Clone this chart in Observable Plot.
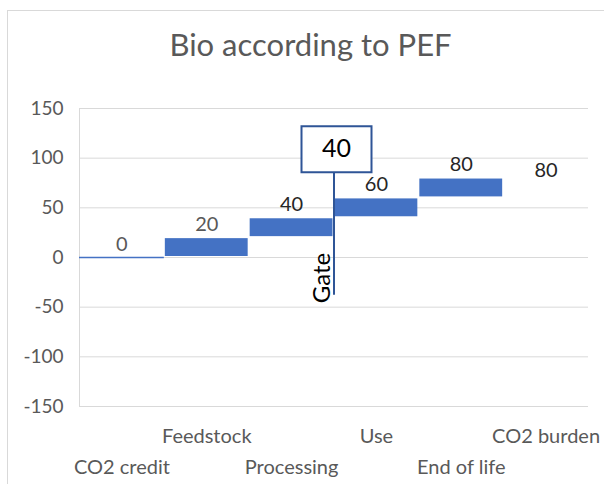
<!DOCTYPE html>
<html>
<head>
<meta charset="utf-8">
<script src="https://cdn.jsdelivr.net/npm/d3@7"></script>
<script src="https://cdn.jsdelivr.net/npm/@observablehq/plot@0.6"></script>
<style>
  html, body { margin: 0; padding: 0; background: #fff; overflow: hidden; }
  #wrap { position: relative; width: 604px; height: 484px; }
  #border { position: absolute; left: 7px; top: 10px; width: 700px; height: 600px; border: 1px solid #d9d9d9; box-sizing: border-box; }
  #chart { position: absolute; left: 0; top: 0; }
  svg { font-family: Lato, "Open Sans", sans-serif; }
</style>
</head>
<body>
<div id="wrap"><div id="border"></div><div id="chart"></div></div>
<script>
const title = "Bio according to PEF";
const categories = ["CO2 credit", "Feedstock", "Processing", "Use", "End of life", "CO2 burden"];
const barStart = [0, 0, 20, 40, 60, 80];
const barEnd = [0, 20, 40, 60, 80, 80];
const valueLabels = ["0", "20", "40", "60", "80", "80"];
const yTicks = [-150, -100, -50, 0, 50, 100, 150];
const gateAfter = "Processing";
const gateValue = 40;
const gateLineFrom = -38;
const gateLineTo = 85;
const gateBoxAt = 109;
const gateTextStart = -46;

const W = 604, H = 484, ML = 79, MR = 16, MT = 108, MB = 78;
const bw = (W - ML - MR) / categories.length;

const rows = categories.map((c, i) => ({cat: c, i, start: barStart[i], end: barEnd[i], label: valueLabels[i]}));
const gate = [{after: gateAfter, value: gateValue, from: gateLineFrom, to: gateLineTo, box: gateBoxAt, gtext: gateTextStart}];
const axisLine = [{cat: categories[0], y1: yTicks[0], y2: yTicks[yTicks.length - 1]}];

const rectSymbol = { draw(ctx) { ctx.rect(-35, -23, 70, 46); } };

const labelColor = (d) => (d.i < 2 ? "#595959" : "#262626");

const plot = Plot.plot({
  width: W, height: H,
  marginLeft: ML, marginRight: MR, marginTop: MT, marginBottom: MB,
  x: {domain: categories, padding: 0, round: false, axis: null},
  y: {domain: [yTicks[0], yTicks[yTicks.length - 1]], axis: null},
  marks: [
    Plot.gridY(yTicks, {stroke: "#d9d9d9", strokeOpacity: 1, strokeWidth: 1}),
    Plot.ruleX(axisLine, {x: "cat", dx: -bw / 2, y1: "y1", y2: "y2", stroke: "#d9d9d9", strokeWidth: 1}),
    Plot.axisY({ticks: yTicks, tickFormat: d => String(d), tickSize: 0, tickPadding: 16, fontSize: 19, color: "#595959", label: null}),
    Plot.rectY(rows.filter(d => d.start !== d.end), {x: "cat", y1: "start", y2: "end", fill: "#4472C4", inset: 1}),
    Plot.tickY(rows.filter(d => d.i === 0), {x: "cat", y: "end", stroke: "#4472C4", strokeWidth: 1.3}),
    Plot.text(rows.filter(d => d.i < 5), {x: "cat", y: "end", text: "label", dy: -13, fontSize: 20, fill: labelColor}),
    Plot.text(rows.filter(d => d.i === 5), {x: "cat", y: "end", text: "label", dy: -7, fontSize: 20, fill: labelColor}),
    Plot.text(rows.filter(d => d.i % 2 === 1), {x: "cat", text: "cat", frameAnchor: "bottom", lineAnchor: "bottom", dy: 36, fontSize: 20, fill: "#595959"}),
    Plot.text(rows.filter(d => d.i % 2 === 0), {x: "cat", text: "cat", frameAnchor: "bottom", lineAnchor: "bottom", dy: 67, fontSize: 20, fill: "#595959"}),
    Plot.ruleX(gate, {x: "after", dx: bw / 2, y1: "from", y2: "to", stroke: "#2F5597", strokeWidth: 2}),
    Plot.dot(gate, {x: "after", dx: bw / 2 + 2.5, y: "box", symbol: rectSymbol, fill: "white", stroke: "#2F5597", strokeWidth: 2}),
    Plot.text(gate, {x: "after", dx: bw / 2 + 2.5, y: "box", text: d => String(d.value), fontSize: 25, fill: "#000"}),
    Plot.text(gate, {x: "after", dx: bw / 2 - 4, y: "gtext", text: () => "Gate", rotate: -90, textAnchor: "start", lineAnchor: "bottom", fontSize: 24, fill: "#000"}),
    Plot.text([title], {frameAnchor: "top", text: d => d, dx: (W / 2 + 8) - (ML + (W - ML - MR) / 2), dy: -53, lineAnchor: "bottom", fontSize: 31, fill: "#595959"})
  ]
});
document.getElementById("chart").appendChild(plot);
</script>
</body>
</html>
